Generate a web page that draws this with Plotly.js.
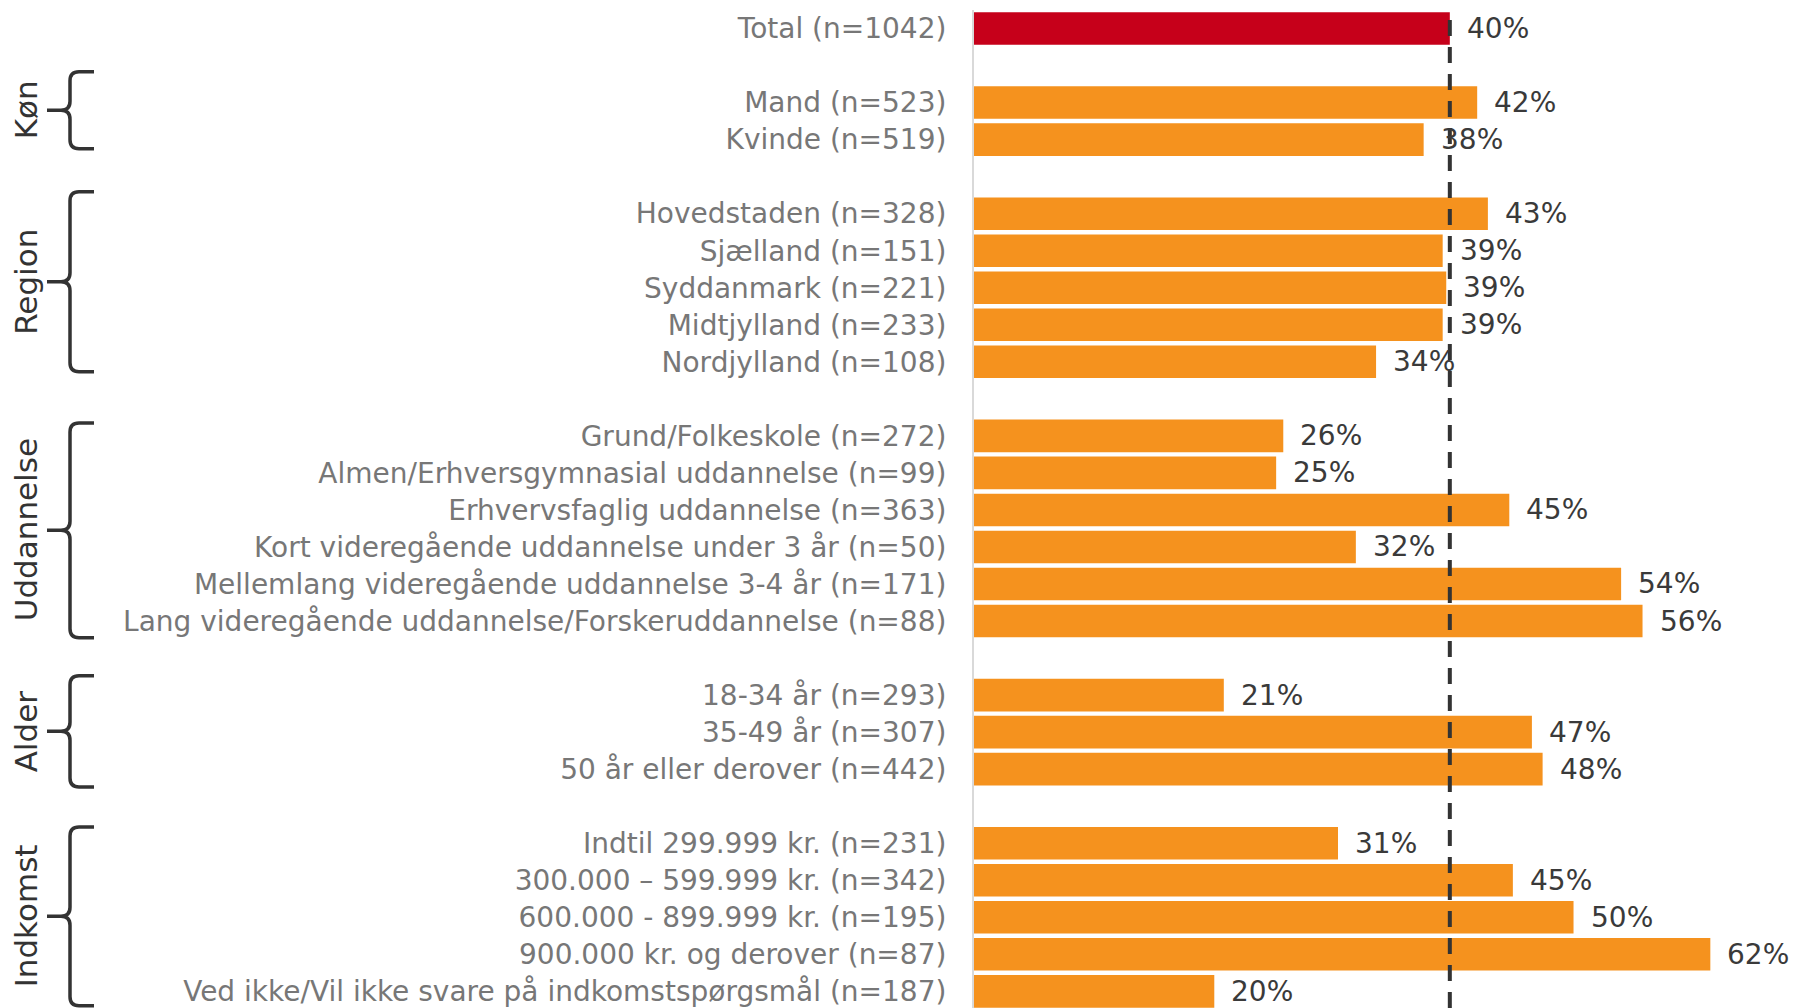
<!DOCTYPE html>
<html>
<head>
<meta charset="utf-8">
<script src="https://cdn.plot.ly/plotly-3.0.1.min.js"></script>
<style>html,body{margin:0;padding:0;background:#fff;}#chart{width:1793px;height:1008px;}</style>
</head>
<body>
<div id="chart"></div>
<script>
// ---- Data ----
const totalLabel = 'Total (n=1042)';
const totalValue = 40.0;
const totalText = '40%';

const groupNames = ['Køn', 'Region', 'Uddannelse', 'Alder', 'Indkomst'];

const konLabels = ['Mand (n=523)', 'Kvinde (n=519)'];
const konValues = [42.3, 37.8];
const konText = ['42%', '38%'];

const regionLabels = ['Hovedstaden (n=328)', 'Sjælland (n=151)', 'Syddanmark (n=221)', 'Midtjylland (n=233)', 'Nordjylland (n=108)'];
const regionValues = [43.2, 39.4, 39.7, 39.4, 33.8];
const regionText = ['43%', '39%', '39%', '39%', '34%'];

const uddLabels = ['Grund/Folkeskole (n=272)', 'Almen/Erhversgymnasial uddannelse (n=99)', 'Erhvervsfaglig uddannelse (n=363)', 'Kort videregående uddannelse under 3 år (n=50)', 'Mellemlang videregående uddannelse 3-4 år (n=171)', 'Lang videregående uddannelse/Forskeruddannelse (n=88)'];
const uddValues = [26.0, 25.4, 45.0, 32.1, 54.4, 56.2];
const uddText = ['26%', '25%', '45%', '32%', '54%', '56%'];

const alderLabels = ['18-34 år (n=293)', '35-49 år (n=307)', '50 år eller derover (n=442)'];
const alderValues = [21.0, 46.9, 47.8];
const alderText = ['21%', '47%', '48%'];

const indkLabels = ['Indtil 299.999 kr. (n=231)', '300.000 – 599.999 kr. (n=342)', '600.000 - 899.999 kr. (n=195)', '900.000 kr. og derover (n=87)', 'Ved ikke/Vil ikke svare på indkomstspørgsmål (n=187)'];
const indkValues = [30.6, 45.3, 50.4, 61.9, 20.2];
const indkText = ['31%', '45%', '50%', '62%', '20%'];

// ---- Layout constants ----
const W = 1793, H = 1008;
const M = {l: 974, r: 22, t: 10, b: 0};
const XMAX = 67;
const FONT = 'Verdana, "DejaVu Sans", sans-serif';
const ORANGE = '#F5921E', RED = '#C6001A';
// brace extension beyond first/last row (slot units), per group
const braceExt = [[0.83, 0.25], [0.59, 0.27], [0.35, 0.45], [0.52, 0.48], [0.44, 0.39]];

// ---- Build slots ----
const groups = [
  [konLabels, konValues, konText],
  [regionLabels, regionValues, regionText],
  [uddLabels, uddValues, uddText],
  [alderLabels, alderValues, alderText],
  [indkLabels, indkValues, indkText]
];
const ys = [0], labels = [totalLabel], vals = [totalValue], txts = [totalText], colors = [RED];
const groupSpans = [];
let slot = 0;
groups.forEach(g => {
  slot += 2;
  const first = slot;
  g[0].forEach((lab, i) => {
    if (i > 0) slot += 1;
    ys.push(slot); labels.push(lab); vals.push(g[1][i]); txts.push(g[2][i]); colors.push(ORANGE);
  });
  groupSpans.push([first, slot]);
});
const yBot = slot + 0.45, yTop = -0.5;
const yRange = [yBot, yTop];
const plotW = W - M.l - M.r, plotH = H - M.t - M.b;
const pxPerSlot = plotH / (yBot - yTop);
const yPaper = s => (yBot - s) / (yBot - yTop);
const pxToPaperX = px => (px - M.l) / plotW;

const trace = {
  type: 'bar', orientation: 'h',
  x: vals, y: ys,
  width: 0.88,
  marker: {color: colors, line: {width: 0}},
  hoverinfo: 'skip'
};

const annotations = [];
vals.forEach((v, i) => {
  annotations.push({
    xref: 'x', yref: 'y', x: v, y: ys[i], text: txts[i],
    xanchor: 'left', yanchor: 'middle', xshift: 15, showarrow: false,
    font: {family: FONT, size: 28, color: '#3a3a3a'}
  });
});

const shapes = [];
// dashed reference line at Total value
shapes.push({
  type: 'line', xref: 'x', yref: 'paper', x0: totalValue, x1: totalValue, y0: 0, y1: 1,
  line: {color: '#333333', width: 4, dash: '16px,11px'}, layer: 'above'
});

// braces + group labels
const xv = 70, xr = 94, xt = 47, rpx = 9;
groupSpans.forEach((sp, gi) => {
  const top = sp[0] - braceExt[gi][0], bot = sp[1] + braceExt[gi][1];
  const mid = (top + bot) / 2;
  const ry = rpx / pxPerSlot;
  const yT = yPaper(top), yB = yPaper(bot), yM = yPaper(mid);
  const dT = yPaper(top + ry), dB = yPaper(bot - ry);
  const mA = yPaper(mid - ry), mB = yPaper(mid + ry);
  const X = px => pxToPaperX(px);
  const path = `M ${X(xr)},${yT} L ${X(xv + rpx)},${yT} Q ${X(xv)},${yT} ${X(xv)},${dT} ` +
    `L ${X(xv)},${mA} Q ${X(xv)},${yM} ${X(xv - rpx)},${yM} L ${X(xt)},${yM} ` +
    `M ${X(xt)},${yM} L ${X(xv - rpx)},${yM} Q ${X(xv)},${yM} ${X(xv)},${mB} ` +
    `L ${X(xv)},${dB} Q ${X(xv)},${yB} ${X(xv + rpx)},${yB} L ${X(xr)},${yB}`;
  shapes.push({type: 'path', xref: 'paper', yref: 'paper', path: path,
    line: {color: '#333333', width: 3.5}, layer: 'above'});
  annotations.push({
    xref: 'paper', yref: 'y', x: pxToPaperX(26), y: mid, text: groupNames[gi],
    textangle: -90, xanchor: 'center', yanchor: 'middle', showarrow: false,
    font: {family: FONT, size: 31, color: '#333333'}
  });
});

const layout = {
  width: W, height: H,
  margin: M,
  paper_bgcolor: '#ffffff', plot_bgcolor: '#ffffff',
  showlegend: false,
  font: {family: FONT},
  xaxis: {range: [0, XMAX], showgrid: false, zeroline: false, showticklabels: false, ticks: '', showline: false, fixedrange: true},
  yaxis: {
    range: yRange, tickmode: 'array', tickvals: ys, ticktext: labels,
    showgrid: false, zeroline: false, ticks: '', ticklabelstandoff: 20,
    ticklabeloverflow: 'allow',
    showline: true, linecolor: '#d9d9d9', linewidth: 2,
    tickfont: {family: FONT, size: 28, color: '#777777'}, fixedrange: true
  },
  shapes: shapes,
  annotations: annotations
};

Plotly.newPlot('chart', [trace], layout, {displayModeBar: false, staticPlot: true});
</script>
</body>
</html>
